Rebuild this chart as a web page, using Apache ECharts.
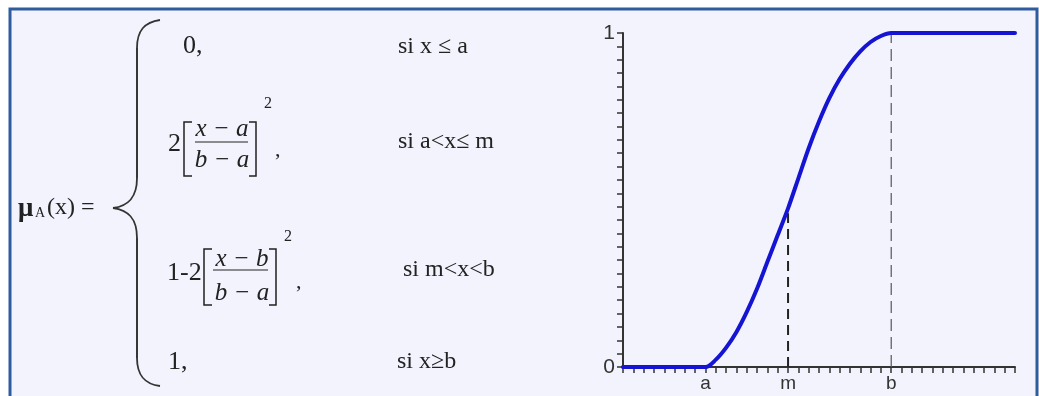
<!DOCTYPE html>
<html>
<head>
<meta charset="utf-8">
<script src="https://cdn.jsdelivr.net/npm/echarts@6/dist/echarts.min.js"></script>
<style>
  html, body { margin: 0; padding: 0; background: #fff; }
  #main { width: 1039px; height: 396px; }
</style>
</head>
<body>
<div id="main"></div>
<script>
// curve: x in tick units, y = membership degree
var curveX = [0, 8, 9, 10, 11, 12, 13, 14, 15, 16, 17, 18, 19, 20, 21, 22, 23, 24, 25, 26, 38]
var curveY = [0, 0, 0.022, 0.058, 0.105, 0.165, 0.235, 0.315, 0.395, 0.475, 0.565, 0.655, 0.735, 0.805, 0.862, 0.908, 0.945, 0.973, 0.991, 1, 1]

// x axis labels and the dashed guides
var tickMarks = [8, 16, 26]
var tickNames = ['a', 'm', 'b']
var yTickMarks = [0, 1]
var yTickNames = ['0', '1']
var guideX = [16, 26]
var guideTop = [0.46, 1]

// formula text
var cases = ['0,', '2', '1-2', '1,']
var conditions = ['si x \u2264 a', 'si a<x\u2264 m', 'si m<x<b', 'si x\u2265b']
var numerators = ['x \u2212 a', 'x \u2212 b']
var denominators = ['b \u2212 a', 'b \u2212 a']

var serif = "'Liberation Serif', 'DejaVu Serif', serif"
var ink = '#222'

function txt(s, x, y, size, opts) {
  opts = opts || {}
  return {
    type: 'text',
    z: 5,
    style: {
      text: s,
      x: x,
      y: y,
      fill: ink,
      font: (opts.italic ? 'italic ' : '') + (opts.bold ? 'bold ' : '') + size + 'px ' + serif,
      textAlign: opts.align || 'left',
      textVerticalAlign: 'middle'
    }
  }
}
function seg(pts, w) {
  return { type: 'polyline', z: 5, shape: { points: pts }, style: { stroke: ink, lineWidth: w || 1.5, fill: null } }
}
function curl(x1, y1, c1x, c1y, c2x, c2y, x2, y2) {
  return { type: 'bezierCurve', z: 5,
    shape: { x1: x1, y1: y1, cpx1: c1x, cpy1: c1y, cpx2: c2x, cpy2: c2y, x2: x2, y2: y2 },
    style: { stroke: '#333', lineWidth: 1.8, fill: null } }
}

var graphics = [
  { type: 'rect', z: -10, silent: true, shape: { x: 10, y: 9, width: 1027, height: 420 },
    style: { fill: '#f2f3fc', stroke: '#2f5c9e', lineWidth: 3 } },
  txt('\u03bc', 18, 209, 27, { bold: true }),
  txt('A', 35, 213, 14),
  txt('(x) =', 47, 208, 24),
  // brace
  curl(160, 20, 145, 22, 137, 30, 137, 48),
  seg([[137, 48], [137, 178]], 1.8),
  curl(137, 178, 137, 198, 128, 206, 113, 208),
  curl(113, 208, 128, 210, 137, 218, 137, 238),
  seg([[137, 238], [137, 358]], 1.8),
  curl(137, 358, 137, 376, 145, 384, 160, 386),
  // row 1
  txt(cases[0], 183, 46, 26),
  // row 2
  txt(cases[1], 168, 144, 26),
  seg([[192, 122], [184, 122], [184, 176], [192, 176]]),
  txt(numerators[0], 222, 129, 25, { italic: true, align: 'center' }),
  seg([[195, 142], [248, 142]], 1.2),
  txt(denominators[0], 222, 160, 25, { italic: true, align: 'center' }),
  seg([[249, 122], [256, 122], [256, 176], [249, 176]]),
  txt('2', 264, 104, 16),
  txt(',', 275, 150, 22),
  // row 3
  txt(cases[2], 167, 273, 26),
  seg([[212, 249], [204, 249], [204, 305], [212, 305]]),
  txt(numerators[1], 242, 259, 25, { italic: true, align: 'center' }),
  seg([[213, 270], [268, 270]], 1.2),
  txt(denominators[1], 242, 293, 25, { italic: true, align: 'center' }),
  seg([[269, 249], [276, 249], [276, 305], [269, 305]]),
  txt('2', 284, 237, 16),
  txt(',', 296, 282, 22),
  // row 4
  txt(cases[3], 168, 362, 26),
  // conditions
  txt(conditions[0], 398, 47, 24),
  txt(conditions[1], 398, 142, 24),
  txt(conditions[2], 403, 270, 24),
  txt(conditions[3], 397, 362, 24)
]

var myChart = echarts.init(document.getElementById('main'))
var option = {
  backgroundColor: '#fff',
  animation: false,
  graphic: graphics,
  grid: { left: 623, right: 24, top: 33, bottom: 29, containLabel: false },
  xAxis: {
    type: 'value',
    min: 0,
    max: 38,
    interval: 1,
    splitLine: { show: false },
    axisLine: { lineStyle: { color: '#333', width: 2 } },
    axisTick: { length: 6, lineStyle: { color: '#333', width: 1.5 } },
    axisLabel: {
      margin: 7,
      fontSize: 19,
      color: '#333',
      fontFamily: "'Liberation Sans', Arial, sans-serif",
      formatter: function (v) {
        var i = tickMarks.indexOf(Math.round(v))
        return i >= 0 && Math.abs(v - tickMarks[i]) < 1e-6 ? tickNames[i] : ''
      }
    }
  },
  yAxis: {
    type: 'value',
    min: 0,
    max: 1,
    interval: 0.04,
    splitLine: { show: false },
    axisLine: { show: true, lineStyle: { color: '#333', width: 2 } },
    axisTick: { show: true, length: 6, lineStyle: { color: '#333', width: 1.5 } },
    axisLabel: {
      margin: 8,
      fontSize: 21,
      color: '#333',
      showMinLabel: true,
      showMaxLabel: true,
      fontFamily: "'Liberation Sans', Arial, sans-serif",
      formatter: function (v) {
        for (var i = 0; i < yTickMarks.length; i++) {
          if (Math.abs(v - yTickMarks[i]) < 1e-6) return yTickNames[i]
        }
        return ''
      }
    }
  },
  series: [
    {
      type: 'line',
      symbol: 'none',
      z: 1,
      data: [[guideX[0], 0], [guideX[0], guideTop[0]]],
      lineStyle: { color: '#222', width: 2, type: [10, 6] }
    },
    {
      type: 'line',
      symbol: 'none',
      z: 1,
      data: [[guideX[1], 0], [guideX[1], guideTop[1]]],
      lineStyle: { color: '#555', width: 1.2, type: [12, 6] }
    },
    {
      name: 'mu',
      type: 'line',
      symbol: 'none',
      smooth: 0.3,
      z: 3,
      data: curveX.map(function (x, i) { return [x, curveY[i]] }),
      lineStyle: { color: '#1414d2', width: 4, cap: 'round' }
    }
  ]
}
myChart.setOption(option)
</script>
</body>
</html>
